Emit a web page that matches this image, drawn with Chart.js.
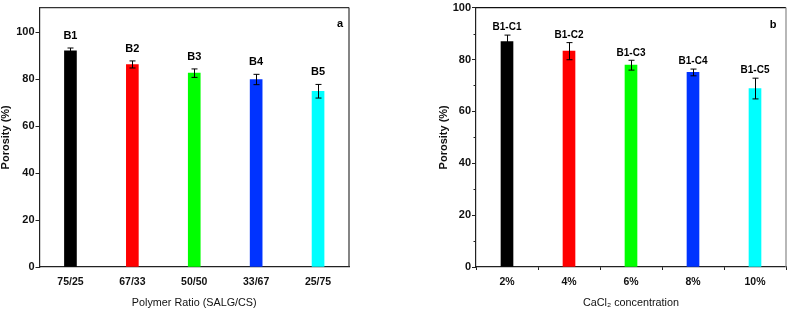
<!DOCTYPE html>
<html>
<head>
<meta charset="utf-8">
<script src="https://cdn.jsdelivr.net/npm/chart.js@4/dist/chart.umd.min.js"></script>
<style>
html,body{margin:0;padding:0;background:#fff;}
#wrap{position:relative;width:790px;height:310px;}
.pane{position:absolute;top:0;width:395px;height:310px;}
</style>
</head>
<body>
<div id="wrap">
  <div class="pane" style="left:0"><canvas id="cA" width="395" height="310"></canvas></div>
  <div class="pane" style="left:395px"><canvas id="cB" width="395" height="310"></canvas></div>
</div>
<script>
// ---- data ----
const catA = ['75/25', '67/33', '50/50', '33/67', '25/75'];
const namesA = ['B1', 'B2', 'B3', 'B4', 'B5'];
const valA = [92.0, 86.2, 82.5, 79.8, 74.8];
const errA = [1.2, 1.5, 1.8, 2.2, 2.9];

const catB = ['2%', '4%', '6%', '8%', '10%'];
const namesB = ['B1-C1', 'B1-C2', 'B1-C3', 'B1-C4', 'B1-C5'];
const valB = [86.9, 83.2, 77.8, 75.0, 68.8];
const errB = [2.5, 3.3, 1.9, 1.3, 4.0];

const yTicksA = [0, 20, 40, 60, 80, 100];
const yTicksB = [0, 20, 40, 60, 80, 100];
const minorB = [10, 30, 50, 70, 90];

const barColors = ['#000000', '#ff0000', '#00ff00', '#0033ff', '#00ffff'];
const FONT = '"Liberation Sans", Arial, sans-serif';

function makePlugin(opts) {
  return {
    id: 'extras',
    afterDatasetsDraw(chart) {
      const {ctx, chartArea: a, scales: {x, y}} = chart;
      const vals = opts.vals, errs = opts.errs;
      ctx.save();
      // frame
      ctx.lineWidth = 1.2;
      ctx.strokeStyle = opts.frameColor;
      ctx.beginPath();
      ctx.moveTo(a.left, a.top); ctx.lineTo(a.right, a.top);
      ctx.stroke();
      ctx.strokeStyle = opts.rightColor;
      ctx.beginPath();
      ctx.moveTo(a.right, a.top); ctx.lineTo(a.right, a.bottom);
      ctx.stroke();
      // minor ticks
      if (opts.minor) {
        ctx.strokeStyle = '#222';
        ctx.lineWidth = 1;
        opts.minor.forEach(v => {
          const py = Math.round(y.getPixelForValue(v)) + 0.5;
          ctx.beginPath(); ctx.moveTo(a.left - 2.5, py); ctx.lineTo(a.left, py); ctx.stroke();
        });
      }
      // error bars
      ctx.strokeStyle = '#000';
      ctx.lineWidth = 1;
      vals.forEach((v, i) => {
        const px = Math.round(x.getPixelForValue(i)) + 0.5;
        const t = y.getPixelForValue(v + errs[i]);
        const b = y.getPixelForValue(v - errs[i]);
        ctx.beginPath();
        ctx.moveTo(px, t); ctx.lineTo(px, b);
        ctx.moveTo(px - 3, t); ctx.lineTo(px + 3, t);
        ctx.moveTo(px - 3, b); ctx.lineTo(px + 3, b);
        ctx.stroke();
      });
      // labels
      ctx.fillStyle = '#000';
      ctx.font = 'bold ' + opts.labelSize + 'px ' + FONT;
      ctx.textAlign = 'center';
      ctx.textBaseline = 'middle';
      vals.forEach((v, i) => {
        const px = x.getPixelForValue(i);
        const t = y.getPixelForValue(v + errs[i]);
        ctx.fillText(opts.names[i], px, t - opts.labelGap);
      });
      // panel letter
      ctx.font = 'bold 11px ' + FONT;
      ctx.fillText(opts.letter, a.right - opts.letterDx, a.top + opts.letterDy);
      ctx.restore();
    }
  };
}

function makeChart(id, cats, vals, errs, names, yMax, yTicks, xTitle, pad, yW, xH, plugOpts) {
  return new Chart(document.getElementById(id), {
    type: 'bar',
    data: {
      labels: cats,
      datasets: [{
        data: vals,
        backgroundColor: barColors,
        borderWidth: 0,
        barThickness: 12
      }]
    },
    options: {
      responsive: false,
      animation: false,
      layout: {padding: pad},
      plugins: {legend: {display: false}, tooltip: {enabled: false}},
      scales: {
        x: {
          offset: true,
          grid: {display: true, drawOnChartArea: false, drawTicks: true, tickLength: 3,
                 offset: true, color: plugOpts.xTickColor, tickColor: plugOpts.xTickColor},
          border: {display: true, color: '#222', width: 1.2},
          ticks: {color: '#111', padding: 6, font: {family: FONT, size: 10.5, weight: 'bold'}},
          title: {display: true, text: xTitle, color: '#111', padding: {top: 0, bottom: 0},
                  font: {family: FONT, size: 10.8, lineHeight: 1.2}},
          afterFit(s) { s.height = xH; }
        },
        y: {
          min: 0, max: yMax,
          afterBuildTicks(s) { s.ticks = yTicks.map(v => ({value: v})); },
          grid: {display: true, drawOnChartArea: false, drawTicks: true, tickLength: 4, color: '#222', tickColor: '#222'},
          border: {display: true, color: '#222', width: 1.2},
          ticks: {color: '#111', padding: 1, font: {family: FONT, size: 11, weight: 'bold'}},
          title: {display: true, text: 'Porosity (%)', color: '#111', padding: {top: 0, bottom: 0},
                  font: {family: FONT, size: 11, weight: 'bold', lineHeight: 1.0}},
          afterFit(s) { s.width = yW; }
        }
      }
    },
    plugins: [makePlugin(Object.assign({vals, errs, names}, plugOpts))]
  });
}

makeChart('cA', catA, valA, errA, namesA, 110.4, yTicksA, 'Polymer Ratio (SALG/CS)',
  {left: 0, right: 46, top: 4, bottom: 0}, 39.5, 43,
  {frameColor: '#333', rightColor: '#333', labelSize: 11, labelGap: 12, letter: 'a',
   letterDx: 9, letterDy: 16, xTickColor: 'rgba(0,0,0,0)', minor: null});

makeChart('cB', catB, valB, errB, namesB, 100, yTicksB, 'CaCl\u2082 concentration',
  {left: 43.5, right: 4, top: 6, bottom: 0}, 37.5, 43,
  {frameColor: '#111', rightColor: '#888', labelSize: 10, labelGap: 7.5, letter: 'b',
   letterDx: 13, letterDy: 17, xTickColor: '#222', minor: minorB});
</script>
</body>
</html>
